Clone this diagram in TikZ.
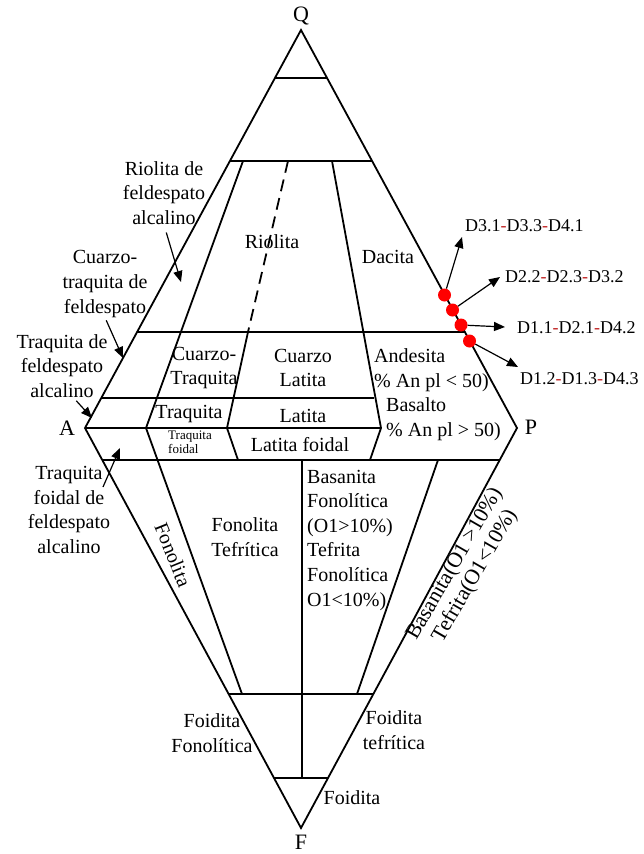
\documentclass[tikz,border=0pt]{standalone}
\usepackage{fontspec}
\setmainfont{Liberation Serif}
\usetikzlibrary{arrows.meta}
\definecolor{dashred}{RGB}{190,30,30}
\newcommand{\dsep}{\textcolor{dashred}{-}}
\tikzset{
    boundary/.style={line width=1.8pt},
    rock/.style={font=\fontsize{20}{24.6}\selectfont, align=center, inner sep=0pt},
    smallrock/.style={font=\fontsize{13}{14}\selectfont, align=left, inner sep=0pt},
    apex/.style={font=\fontsize{22}{24}\selectfont, inner sep=0pt},
    sample/.style={font=\fontsize{18}{20}\selectfont, anchor=west, inner sep=0pt},
    reddot/.style={circle, fill=red, inner sep=0pt, minimum size=13pt},
    pointer/.style={-{Triangle[length=11pt,width=9pt]}, line width=1.2pt},
}

\begin{document}
\begin{tikzpicture}[x=1pt, y=-1pt]
    \useasboundingbox (0,0) rectangle (643,854);
    % vertices
    \coordinate (Q) at (301,30);
    \coordinate (A) at (85,428);
    \coordinate (P) at (517,428);
    \coordinate (F) at (301,828);
    \draw[boundary] (Q) -- (P) -- (F) -- (A) -- cycle;

    % upper triangle
    \draw[boundary] (275,78) -- (327,78);
    \draw[boundary] (230,161) -- (372,161);
    \draw[boundary] (137,332) -- (465,332);
    \draw[boundary] (101,398) -- (374,398);
    \draw[boundary] (A) -- (381,428);
    \draw[boundary] (102,460) -- (500,460);
    \draw[boundary] (243,161) -- (146,428) -- (242,694);
    \draw[boundary, dash pattern=on 12pt off 7pt] (288,161) -- (248,332);
    \draw[boundary] (248,332) -- (227,428) -- (238,460);
    \draw[boundary] (332,161) -- (381,428) -- (370,460);

    % lower triangle
    \draw[boundary] (438,460) -- (357,694);
    \draw[boundary] (302,460) -- (302,778);
    \draw[boundary] (228,694) -- (374,694);
    \draw[boundary] (274,778) -- (328,778);

    \node[apex] (lQ) at (301,16) {Q};
    \node[apex] (lA) at (67,428) {A};
    \node[apex] (lP) at (531,427) {P};
    \node[apex] (lF) at (301,842) {F};

    % fields
    \node[rock] (riolita) at (272,242) {Riolita};
    \node[rock] (dacita) at (388,257) {Dacita};
    \node[rock] (cztraq) at (204,368) {Cuarzo-\\Traquita};
    \node[rock] (czlat) at (303,368) {Cuarzo\\Latita};
    \node[rock, align=left, anchor=west] (andes) at (374,370) {Andesita\\\% An pl < 50)};
    \node[rock, align=left, anchor=west] (basal) at (386,419) {Basalto\\\% An pl > 50)};
    \node[rock] (traq) at (189,414) {Traquita};
    \node[rock] (lat) at (303,416) {Latita};
    \node[smallrock, anchor=west] (traqf) at (168,442) {Traquita\\foidal};
    \node[rock] (latf) at (300,445) {Latita foidal};
    \node[rock, align=left, anchor=west] (basan) at (307,540) {Basanita\\Fonolítica\\(O1>10\%)\\Tefrita\\Fonolítica\\O1<10\%)};
    \node[rock] (fonteft) at (245,537) {Fonolita\\Tefrítica};
    \node[rock, rotate=-68] (fonol) at (173,555) {Fonolita};
    \node[rock, rotate=60, font=\fontsize{21.5}{23.5}\selectfont] (bastef) at (465,570) {Basanita(O1 >10\%)\\Tefrita(O1<10\%)};
    \node[rock] (foidfon) at (212,733) {Foidita\\Fonolítica};
    \node[rock] (foidtef) at (394,730) {Foidita\\tefrítica};
    \node[rock] (foid) at (352,798) {Foidita};

    % alkali feldspar notes
    \node[rock] (rfa) at (164,193) {Riolita de\\feldespato\\alcalino};
    \node[rock] (ctf) at (105,284) {Cuarzo-\\traquita de\\feldespato};
    \node[rock] (tfa) at (62,366) {Traquita de\\feldespato\\alcalino};
    \node[rock] (tffa) at (69,510) {Traquita\\foidal de\\feldespato\\alcalino};
    \coordinate (rfa tip) at (181,282);
    \coordinate (ctf tip) at (123,358);
    \coordinate (tfa tip) at (92,418);
    \coordinate (tffa tip) at (120,448);
    \coordinate (tffa end) at (103,487);
    \draw[pointer, shorten <=8pt] (rfa.south) -- (rfa tip);
    \draw[pointer, shorten <=3pt] (ctf.south) -- (ctf tip);
    \draw[pointer, shorten <=4pt] (tfa.-70) -- (tfa tip);
    \draw[pointer] (tffa end) -- (tffa tip);

    % samples
    \node[reddot] (d1) at (444.5,295) {};
    \node[reddot] (d2) at (452.5,310) {};
    \node[reddot] (d3) at (461,325) {};
    \node[reddot] (d4) at (469.5,341) {};
    \node[sample] (s1) at (465,226) {D3.1\dsep D3.3\dsep D4.1};
    \node[sample] (s2) at (505,277) {D2.2\dsep D2.3\dsep D3.2};
    \node[sample] (s3) at (517,328) {D1.1\dsep D2.1\dsep D4.2};
    \node[sample] (s4) at (520,379) {D1.2\dsep D1.3\dsep D4.3};
    \coordinate (t1) at (462,237);
    \coordinate (t2) at (500,277);
    \coordinate (t3) at (505,327);
    \coordinate (t4) at (518,367);
    \draw[pointer] (d1) -- (t1);
    \draw[pointer] (d2) -- (t2);
    \draw[pointer] (d3) -- (t3);
    \draw[pointer] (d4) -- (t4);
\end{tikzpicture}
\end{document}
